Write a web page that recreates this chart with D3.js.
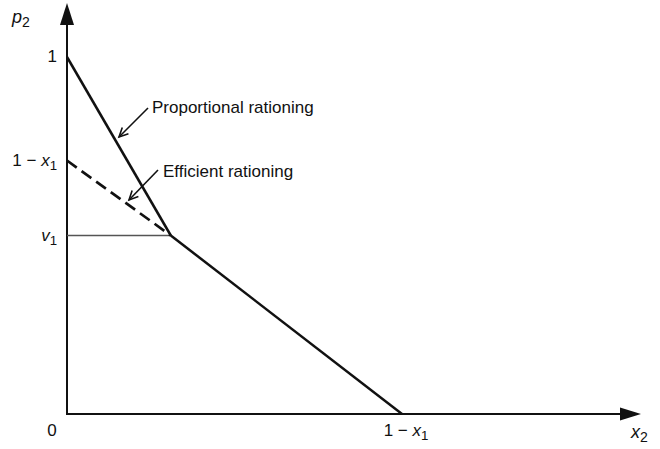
<!DOCTYPE html>
<html>
<head>
<meta charset="utf-8">
<script src="https://cdn.jsdelivr.net/npm/d3@7"></script>
<style>
  body { margin: 0; background: #fff; }
  text { font-family: "Liberation Sans", Arial, Helvetica, sans-serif; fill: #111; }
</style>
</head>
<body>
<script>
const width = 660;
const height = 449;

// values (x2 on the horizontal, p2 on the vertical)
const x1 = 0.29;            // so 1 - x1 = 0.71
const v1 = 0.5;
const kinkX2 = 0.22;
const proportional = [{x2: 0, p2: 1}, {x2: kinkX2, p2: v1}];
const efficient = [{x2: 0, p2: 1 - x1}, {x2: kinkX2, p2: v1}];
const common = [{x2: kinkX2, p2: v1}, {x2: 1 - x1, p2: 0}];
const yTicks = [{v: 1, label: ["1"]}, {v: 1 - x1, label: ["1 \u2212 ", "x", "1"]}, {v: v1, label: ["v", "1"]}];
const xTicks = [{v: 0, label: ["0"]}, {v: 1 - x1, label: ["1 \u2212 ", "x", "1"]}];
const notes = ["Proportional rationing", "Efficient rationing"];

const x = d3.scaleLinear().domain([0, 1 - x1]).range([67, 402]);
const y = d3.scaleLinear().domain([0, 1]).range([414, 57]);

const svg = d3.select("body").append("svg")
  .attr("width", width)
  .attr("height", height);

// axes with solid arrow heads
svg.append("line")
  .attr("x1", x(0)).attr("y1", y(0)).attr("x2", x(0)).attr("y2", 20)
  .attr("stroke", "#111").attr("stroke-width", 2);
svg.append("path")
  .attr("d", d3.line()([[x(0), 3], [x(0) - 7, 25], [x(0) + 7, 25]]) + "Z")
  .attr("fill", "#111");
svg.append("line")
  .attr("x1", x(0) - 1).attr("y1", y(0)).attr("x2", 625).attr("y2", y(0))
  .attr("stroke", "#111").attr("stroke-width", 2);
svg.append("path")
  .attr("d", d3.line()([[641, y(0)], [620, y(0) - 6.5], [620, y(0) + 6.5]]) + "Z")
  .attr("fill", "#111");

// thin guide at v1
svg.append("line")
  .attr("x1", x(0)).attr("x2", x(kinkX2))
  .attr("y1", y(v1)).attr("y2", y(v1))
  .attr("stroke", "#555").attr("stroke-width", 1.3);

const line = d3.line().x(d => x(d.x2)).y(d => y(d.p2));

svg.append("path").datum(proportional)
  .attr("d", line).attr("fill", "none")
  .attr("stroke", "#111").attr("stroke-width", 2.5);
svg.append("path").datum(efficient)
  .attr("d", line).attr("fill", "none")
  .attr("stroke", "#111").attr("stroke-width", 2.7)
  .attr("stroke-dasharray", "12,6");
svg.append("path").datum(common)
  .attr("d", line).attr("fill", "none")
  .attr("stroke", "#111").attr("stroke-width", 2.5);

// label helper: plain text, italic variables, digit subscripts
function addLabel(g, parts, size) {
  parts.forEach((p, i) => {
    const italic = /[a-z]/.test(p);
    const isSub = i > 0 && /^\d$/.test(p);
    g.append("tspan")
      .attr("font-style", italic ? "italic" : "normal")
      .attr("font-size", isSub ? size * 0.78 : size)
      .attr("dy", isSub ? 4 : 0)
      .text(p);
  });
}

yTicks.forEach(t => {
  const g = svg.append("text")
    .attr("x", 57).attr("y", y(t.v) + 5)
    .attr("text-anchor", "end");
  addLabel(g, t.label, 17);
});

xTicks.forEach((t, i) => {
  const g = svg.append("text")
    .attr("x", i == 0 ? x(t.v) - 15 : x(t.v) + 4).attr("y", 436)
    .attr("text-anchor", "middle");
  addLabel(g, t.label, 17);
});

// axis titles
addLabel(svg.append("text").attr("x", 12).attr("y", 23), ["p", "2"], 18);
addLabel(svg.append("text").attr("x", 631).attr("y", 438), ["x", "2"], 18);

// annotations with open arrow heads
const annot = [
  {text: notes[0], tx: 152, ty: 113, from: [148, 108], to: [119, 137]},
  {text: notes[1], tx: 163, ty: 177, from: [158, 170], to: [129, 200]}
];
annot.forEach(a => {
  svg.append("text")
    .attr("x", a.tx).attr("y", a.ty)
    .attr("font-size", 17)
    .text(a.text);
  svg.append("line")
    .attr("x1", a.from[0]).attr("y1", a.from[1])
    .attr("x2", a.to[0]).attr("y2", a.to[1])
    .attr("stroke", "#111").attr("stroke-width", 1.6);
  const ang = Math.atan2(a.from[1] - a.to[1], a.from[0] - a.to[0]);
  const len = 10, spread = 0.45;
  const p1 = [a.to[0] + len * Math.cos(ang + spread), a.to[1] + len * Math.sin(ang + spread)];
  const p2 = [a.to[0] + len * Math.cos(ang - spread), a.to[1] + len * Math.sin(ang - spread)];
  svg.append("path")
    .attr("d", d3.line()([p1, a.to, p2]))
    .attr("fill", "none").attr("stroke", "#111").attr("stroke-width", 1.6);
});
</script>
</body>
</html>
